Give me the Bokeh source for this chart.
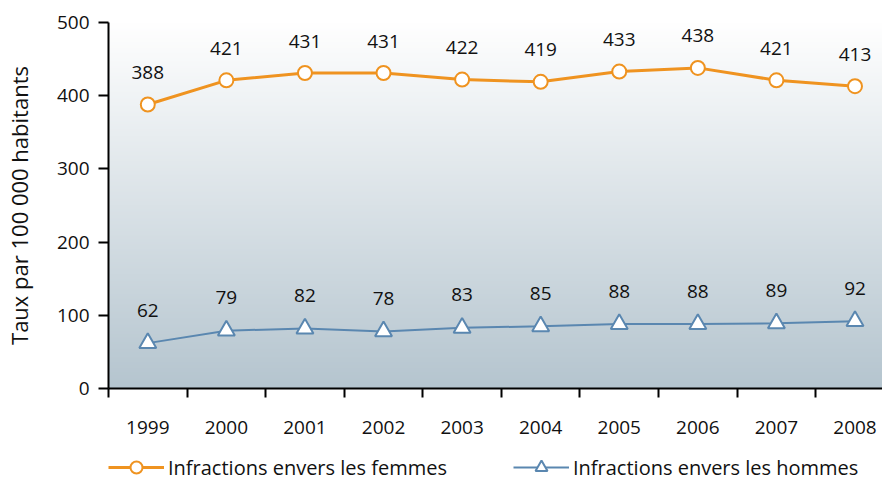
import numpy as np
from bokeh.plotting import figure
from bokeh.layouts import column
from bokeh.models import FixedTicker, Legend, LegendItem, ColumnDataSource, Range1d
from bokeh.core.properties import value
from bokeh.embed import file_html
from bokeh.resources import INLINE

years = ["1999", "2000", "2001", "2002", "2003", "2004", "2005", "2006", "2007", "2008"]
femmes = [388, 421, 431, 431, 422, 419, 433, 438, 421, 413]
hommes = [62, 79, 82, 78, 83, 85, 88, 88, 89, 92]
y_ticks = [0, 100, 200, 300, 400, 500]
series_names = ["Infractions envers les femmes", "Infractions envers les hommes"]

FONT = "Open Sans"
ORANGE = "#ef9320"
BLUE = "#5a87b0"
TXT = "#111111"

xs = list(range(len(years)))

p = figure(frame_width=774, frame_height=366, output_backend="svg", toolbar_location=None,
           x_range=Range1d(-0.5, 9.35), y_range=Range1d(0, 500),
           min_border_left=108, min_border_right=0, min_border_top=22,
           min_border_bottom=62)
p.outline_line_color = None
p.background_fill_color = None
p.border_fill_color = "white"
p.grid.visible = False

# background gradient
n = 256
top = np.array([255, 255, 255], dtype=float)
bot = np.array([181, 197, 207], dtype=float)
t = np.linspace(0, 1, n)[:, None]  # 0 bottom -> 1 top
cols = bot + (top - bot) * t
img = np.zeros((n, 1), dtype=np.uint32)
view = img.view(dtype=np.uint8).reshape((n, 1, 4))
view[:, 0, 0] = cols[:, 0].astype(np.uint8)
view[:, 0, 1] = cols[:, 1].astype(np.uint8)
view[:, 0, 2] = cols[:, 2].astype(np.uint8)
view[:, 0, 3] = 255
p.image_rgba(image=[img], x=-0.5, y=0, dw=9.85, dh=500, level="image")

src = ColumnDataSource(dict(x=xs, f=femmes, h=hommes,
                            fl=[str(v) for v in femmes], hl=[str(v) for v in hommes]))

p.line("x", "f", source=src, line_color=ORANGE, line_width=3)
p.scatter("x", "f", source=src, marker="circle", size=14, fill_color="white",
          line_color=ORANGE, line_width=2)
p.line("x", "h", source=src, line_color=BLUE, line_width=2)
p.scatter("x", "h", source=src, marker="triangle", size=17, fill_color="white",
          line_color=BLUE, line_width=2)

p.text("x", "f", text="fl", source=src, text_align="center", text_baseline="middle",
       y_offset=-32, text_font=value(FONT), text_font_size="19px", text_color=TXT)
p.text("x", "h", text="hl", source=src, text_align="center", text_baseline="middle",
       y_offset=-33, text_font=value(FONT), text_font_size="19px", text_color=TXT)

# x axis: labels at centres, ticks at boundaries
xa = p.xaxis[0]
xa.ticker = FixedTicker(ticks=xs, minor_ticks=[i - 0.5 for i in range(len(years))])
xa.major_label_overrides = {i: y for i, y in enumerate(years)}
xa.major_tick_out = 0
xa.major_tick_in = 0
xa.minor_tick_out = 9
xa.minor_tick_in = 0
xa.minor_tick_line_color = "black"
xa.minor_tick_line_width = 2
xa.axis_line_width = 2
xa.axis_line_color = "black"
xa.major_label_standoff = 23
xa.major_label_text_font = FONT
xa.major_label_text_font_size = "19px"
xa.major_label_text_color = TXT

ya = p.yaxis[0]
ya.ticker = FixedTicker(ticks=y_ticks, minor_ticks=[])
ya.major_tick_out = 10
ya.major_tick_in = 0
ya.major_tick_line_width = 2
ya.axis_line_width = 2
ya.axis_line_color = "black"
ya.major_label_standoff = 9
ya.major_label_text_font = FONT
ya.major_label_text_font_size = "19px"
ya.major_label_text_color = TXT
ya.axis_label = "Taux par 100 000 habitants"
ya.axis_label_text_font = FONT
ya.axis_label_text_font_size = "22px"
ya.axis_label_text_font_style = "normal"
ya.axis_label_text_color = TXT
ya.axis_label_standoff = 20

# legend strip below the chart (its frame is aligned with the chart's frame)
lfig = figure(width=882, height=32, output_backend="svg", toolbar_location=None,
              x_axis_type=None, y_axis_type=None, min_border=0,
              x_range=Range1d(-100, -99), y_range=Range1d(-100, -99))
lfig.outline_line_color = None
lfig.background_fill_color = None
lfig.border_fill_color = "white"
lfig.grid.visible = False
gl1 = lfig.line("x", "f", source=src, line_color=ORANGE, line_width=3)
gs1 = lfig.scatter("x", "f", source=src, marker="circle", size=14, fill_color="white",
                   line_color=ORANGE, line_width=2)
gl2 = lfig.line("x", "h", source=src, line_color=BLUE, line_width=2)
gs2 = lfig.scatter("x", "h", source=src, marker="triangle", size=17, fill_color="white",
                   line_color=BLUE, line_width=2)

legend = Legend(items=[LegendItem(label=series_names[0], renderers=[gl1, gs1]),
                       LegendItem(label=series_names[1], renderers=[gl2, gs2])],
                location=(0, 0), orientation="horizontal",
                glyph_width=56, glyph_height=30, label_standoff=4, label_width=290,
                spacing=55, padding=0, margin=0, border_line_color=None,
                background_fill_alpha=0, label_text_font=FONT,
                label_text_font_size="20px", label_text_color=TXT)
lfig.add_layout(legend)

layout = column(p, lfig, spacing=0)
open("out.html", "w").write(file_html(layout, INLINE))
